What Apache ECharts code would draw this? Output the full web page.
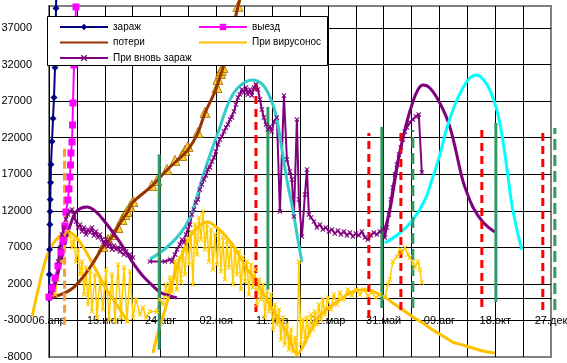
<!DOCTYPE html>
<html><head><meta charset="utf-8">
<script src="https://cdn.jsdelivr.net/npm/echarts@6/dist/echarts.min.js"></script>
<style>html,body{margin:0;padding:0;background:#fff}#c{width:567px;height:363px}</style>
</head><body><div id="c"></div>
<script>
// x = days since 06.04.2020, y = value
const monthsRu = ['янв','фев','мар','апр','май','июн','июл','авг','сен','окт','ноя','дек'];

const infDays = [0, 0.4, 0.75, 1.1, 1.3, 1.6, 2, 2.5, 3.8, 5, 6.3, 7.5, 8.2, 8.8, 9.4];
const infVals = [0, 3280, 6700, 10120, 11900, 13540, 15870, 18330, 21480, 24620, 27500, 31600, 35600, 39700, 43500];

const outDays = [0, 3.8, 7.5, 11.3, 15, 17.6, 20, 21.3, 23.8, 25, 26.3, 27, 27.6, 28.9, 29.5, 30.1, 31.4, 33.9];
const outVals = [200, 1440, 2810, 4450, 6360, 8000, 9920, 11830, 13470, 14980, 16620, 18260, 19900, 21410, 23730, 26740, 31940, 39870];

const lossDays = [0, 1.3, 13.8, 30.1, 42.7, 55.2, 67.7, 79, 89.1, 97.9, 105.4, 129.2, 148, 164.3, 174.4, 186.9, 195.7, 208.2, 214.5, 218.3, 227, 237.1, 242];
const lossVals = [0, 70, 480, 1440, 2940, 4860, 7050, 8410, 10330, 11700, 13200, 15390, 17580, 19220, 20310, 22640, 25370, 28250, 30300, 31530, 35360, 39870, 42000];

const triDays = [67.7, 74, 80.3, 86.6, 91.6, 95.3, 97.9, 101.6, 105.4, 129.2, 135.5, 148, 158.1, 166.8, 170.6, 174.4, 186.9, 195.7, 210.8, 212, 215, 216, 218.3, 237.1];
const triVals = [7110, 8070, 8750, 9710, 10810, 11490, 11900, 12590, 13270, 15460, 16140, 17650, 18880, 19560, 20250, 20790, 22710, 25450, 28860, 29960, 30780, 31200, 31600, 39950];

const carrDays = [-21.3, -13.8, -5, 3.8, 13.8, 23.8, 33.9, 45.2, 57.7, 70.3, 85.3, 99.1, 115,
  130.5, 136.7, 145.5, 153, 160.6, 169.4, 176.9, 185.7, 193.2, 199.5, 208.2, 218.3, 229.6, 239.6, 249.6,
  260.9, 271, 281, 289.8, 298.6, 306.1, 311.1, 319.9, 327.4, 336.2, 343.7, 352.5, 361.3, 371.3, 380.1,
  390.1, 400.2, 411.5, 421.5, 431.5, 444.1, 456.6, 469.2, 481.7, 494.3, 506.8, 519.4, 531.9, 544.5, 559.5];
const carrVals = [-2530, 1160, 4990, 7320, 8550, 9100, 8410, 6640, 4170, 1580, -890, -3210, null,
  -7450, -4720, -1570, 1440, 4310, 6640, 8410, 9650, 10330, 10470, 9920, 8960, 7460, 5680, 3900,
  2120, 210, -1570, -3210, -4720, -6770, -7600, -6360, -4580, -2940, -1980, -1160, -480, 340, 890,
  1160, 1160, 750, 210, -610, -1570, -2530, -3350, -4310, -5130, -5950, -6360, -6770, -7180, -7450];

const carrNoiseDays = [7.5,11.3,15.1,17.6,21.3,23.8,26.3,28.9,31.4,33.9,36.4,38.9,41.4,43.9,46.4,48.9,51.4,53.9,57.7,60.2,64,67.7,71.5,75.3,79,82.8,86.6,90.3,94.1,97.9,101.6,105.4,109.1,114.2,117.9,121.7,126.7,
  135.5,139.2,143,146.8,149.3,151.8,154.3,158.1,160.6,163.1,165.6,168.1,170.6,173.1,175.6,178.1,180.6,183.2,185.7,188.2,190.7,193.2,195.7,198.2,200.7,203.2,205.7,208.2,210.8,213.3,215.8,218.3,220.8,223.3,225.8,228.3,230.8,233.3,235.8,238.4,240.9,243.4,245.9,248.4,250.9,253.4,255.9,258.4,260.9,263.5,266,268.5,271,273.5,276,278.5,281,283.5,286,288.5,291,293.5,296,298.6,301.1,303.6,306.1,308.6,311.1,313.6,316.1,
  318.6,321.2,323.7,326.2,328.7,331.2,333.7,336.2,338.7,341.2,343.7,346.2,349.9,353.7,357.5,361.3,365.1,370,375,380.1,385.1,390.1,395.2,400.2,405.2,410.2,415.2,421.5,
  425.3,427.8,431.5,436.6,440.3,442.8,446.6,450.4,452.9,456.6,459.1,462.9,465.4,467.9];
const carrNoiseVals = [550,2600,5060,6700,8070,9170,8620,6980,8070,5060,6700,3280,5060,550,4240,-820,3690,-1780,3280,-2600,2600,-1500,3970,-2870,3280,-3150,4650,-2600,4240,-3150,3690,-2600,-140,-2190,-1230,-2600,-1780,
  -1780,-140,-820,1920,140,2870,960,5060,1230,5610,2190,6700,3280,8070,4650,9170,1920,10120,6020,11080,8070,11900,6700,10120,5060,9440,3970,8750,4650,9170,3690,8340,2600,7800,4240,7390,1920,6700,3280,6430,1230,5610,2330,5060,550,4650,1500,3970,-820,2600,-140,1920,-2600,960,-1780,550,-4240,-820,-3560,-1500,-5610,-2600,-6290,-3560,-6980,-4240,-7250,-5340,-7660,5060,-6290,
  -2870,-5610,-2600,-4920,-2190,-4240,-1780,-3560,-820,-2870,-140,-2190,140,-1500,550,-820,820,-140,1230,410,1230,550,1230,410,820,140,550,140,
  1920,2600,5060,5750,6700,6290,6980,6020,5610,4920,4240,5060,3970,2190];

const reinfDays = [11.3,13.8,16.3,18.8,21.3,23.8,26.3,28.9,31.4,33.9,36.4,38.9,41.4,43.9,46.4,48.9,51.4,53.9,56.4,58.9,61.5,64,66.5,69,71.5,74,76.5,79,81.5,84.1,86.6,89.1,91.6,94.1,96.6,99.1,101.6,105.4,115,
  126.7,145.5,151.8,154.3,158.1,160.6,164.3,166.8,169.4,171.9,174.4,176.9,179.4,181.9,184.4,186.9,189.4,191.9,194.4,197,199.5,202,204.5,207,209.5,212,214.5,217,219.6,222.1,224.6,227.1,229.6,232.1,234.6,237.1,239.6,242.1,244.6,247.1,249.6,252.2,254.7,257.2,259.7,262.2,264.7,267.2,269.7,272.2,274.7,277.2,279.7,282.3,286,289.8,294.8,298.6,302.3,304.8,307.4,311.1,313.6,317.4,321.2,323.7,326.2,328.7,332.5,336.2,340,343.7,347.5,351.3,355,358.8,362.6,366.3,370.1,373.9,377.6,381.4,385.1,388.9,392.7,396.4,400.2,404,407.7,411.5,415.2,419,421.5,424,426.5,429,431.5,434.1,436.6,439.1,441.6,444.1,446.6,449.1,452.9,456.6,460.4,464.1,467.9];
const reinfVals = [5060,6980,8750,9710,10810,11490,11900,12180,11490,10530,9710,10120,9170,9710,8750,9440,9030,9710,8620,9170,8340,8750,8070,7390,8070,7110,7520,6700,7250,6700,6980,6430,6700,6020,6430,5880,6020,5610,null,
  5060,5060,5340,5060,6020,6700,7390,8070,7660,8750,9440,10120,11490,12180,13130,13540,14910,15600,16280,16830,17650,17920,18740,19290,20110,21070,21750,22160,22850,23390,23800,24490,24760,25580,26540,27500,27910,28590,28180,28860,27910,28590,27770,28860,29270,28590,27220,25850,24760,23800,23120,23530,22840,24210,24760,11900,27770,19020,17370,16280,11220,24490,13540,8480,14230,17650,11490,11080,10530,9710,10120,9440,9710,9170,9440,8890,9300,8750,9170,8620,9030,8480,8890,8620,9170,8340,8070,8620,9030,8750,9170,9440,8340,9710,11490,13540,15180,16960,18330,19700,20660,21750,22840,23390,24080,24490,24900,25170,17240];

const wave1Days = [3.8, 13.8, 21.3, 28.9, 36.4, 47.7, 57.7, 70.3, 85.3, 95.3, 105.4, 116.7, 126.7, 139.2, 148, 160.6];
const wave1Vals = [480, 4580, 8000, 10740, 12110, 12520, 11970, 10470, 8280, 6640, 4860, 3220, 2120, 890, 480, 70];
const wave2Days = [420.3, 427.8, 434.1, 440.3, 449.1, 456.6, 462.9, 469.2, 478, 490.5, 503.1, 518.1, 521.9, 531.9, 544.5, 559.5];
const wave2Vals = [8960, 12110, 16210, 20040, 24140, 26880, 28520, 29200, 28790, 26740, 23460, 16620, 15250, 12520, 10470, 9100];

const cyan1Days = [126.7, 145.5, 164.3, 176.9, 183.2, 195.7, 212, 227, 239.6, 254.7, 267.2, 277.2, 284.8, 289.8, 298.6, 306.1, 312.4, 317.4];
const cyan1Vals = [5400, 6770, 8820, 11010, 13060, 17580, 22640, 27150, 29070, 29890, 29340, 27560, 25100, 22090, 16210, 12110, 8000, 4990];
const cyan2Days = [421.5, 440.3, 456.6, 471.7, 480.5, 490.5, 499.3, 509.3, 519.4, 528.1, 535.7, 544.5, 553.2, 562, 569.5, 575.8, 582.1, 593.4];
const cyan2Vals = [7590, 8960, 10740, 13470, 16210, 19630, 23320, 26470, 28790, 30160, 30570, 30030, 28520, 25790, 21680, 16890, 12110, 6640];

const orangeX = [19.5], orangeTop = [21000], orangeBottom = [-3600];
const redX = [259.7, 401.4, 441.6, 543.2, 619.7];
const redTop = [29900, 22640, 22640, 23320, 23050];
const redBottom = [-1850, -2670, -1570, -1160, -1570];
const greenX = [138.3, 274.7, 417.7, 560.8];
const greenTop = [19700, 26200, 23460, 24010];
const greenBottom = [-7000, 1230, -1300, -480];
const greenDashX = [456.6, 634.8];
const greenDashTop = [23050, 23320];
const greenDashBottom = [-1300, -1570];

// axis setup
const X_MIN = 0, X_MAX = 630, X_STEP = 35;
const Y_MIN = -8000, Y_MAX = 40000, Y_STEP = 5000;
const X_PAD = 35; // extended hidden axis so points outside the visible range are drawn too

const FONT = 'Arial, "Liberation Sans", sans-serif';
const XMARK = 'path://M0,1.5L1.5,0L5,3.5L8.5,0L10,1.5L6.5,5L10,8.5L8.5,10L5,6.5L1.5,10L0,8.5L3.5,5Z';

const W = 567, GL = 49, GR = 16;
const pxPerDay = (W - GL - GR) / (X_MAX - X_MIN);

function zip(d, v) { return d.map((x, i) => [x, v[i] === null ? '-' : v[i]]); }
function line(name, d, v, color, width, extra) {
  return Object.assign({
    name, type: 'line', data: zip(d, v), clip: false, symbol: 'none', xAxisIndex: 1, yAxisIndex: 1,
    lineStyle: { color, width }, itemStyle: { color }, silent: true
  }, extra || {});
}
function vlines(xs, tops, bots, color, type, prefix) {
  return xs.map((x, i) => ({
    name: prefix + i, type: 'line', clip: false, symbol: 'none', silent: true, xAxisIndex: 1, yAxisIndex: 1,
    data: [[x, bots[i]], [x, tops[i]]],
    lineStyle: { color, width: 3, type }, itemStyle: { color }
  }));
}

const series = [
  line('шум', carrNoiseDays, carrNoiseVals, '#FFCC00', 1.5, { symbol: XMARK, symbolSize: 5 }),
  line('При вирусонос', carrDays, carrVals, '#FFC000', 3, { smooth: 0.3 }),
  line('потери', lossDays, lossVals, '#993300', 3, { smooth: 0.2 }),
  { name: 'tri', type: 'scatter', data: zip(triDays, triVals), clip: false, symbol: 'triangle', symbolSize: 10, silent: true,
    xAxisIndex: 1, yAxisIndex: 1,
    itemStyle: { color: '#FFCC00', borderColor: '#996600', borderWidth: 1 } },
  line('зараж', infDays, infVals, '#000080', 2, { symbol: 'diamond', symbolSize: 7 }),
  line('выезд', outDays, outVals, '#FF00FF', 2, { symbol: 'rect', symbolSize: 7 }),
  line('При вновь зараж', reinfDays, reinfVals, '#800080', 2, { symbol: XMARK, symbolSize: 5 }),
  line('wave1', wave1Days, wave1Vals, '#800080', 3, { smooth: 0.4 }),
  line('wave2', wave2Days, wave2Vals, '#800080', 3, { smooth: 0.4 }),
  line('cyan1', cyan1Days, cyan1Vals, '#33CCCC', 3, { smooth: 0.4 }),
  line('cyan2', cyan2Days, cyan2Vals, '#00FFFF', 3, { smooth: 0.4 }),
  ...vlines(orangeX, orangeTop, orangeBottom, '#FF9933', [8, 4], 'or'),
  ...vlines(redX, redTop, redBottom, '#FF0000', [8, 5], 'red'),
  ...vlines(greenX, greenTop, greenBottom, '#339966', 'solid', 'gr'),
  ...vlines(greenDashX, greenDashTop, greenDashBottom, '#339966', [11, 5], 'grd')
];

const legendBase = {
  orient: 'vertical', top: 21, itemWidth: 48, itemHeight: 8, itemGap: 3.5, padding: 0,
  selectedMode: false, z: 60,
  textStyle: { fontSize: 10, fontFamily: FONT, color: '#000', lineHeight: 12 }
};
const noMark = { opacity: 0 };

const chart = echarts.init(document.getElementById('c'));
chart.setOption({
  animation: false,
  backgroundColor: '#fff',
  grid: [
    { left: GL, right: GR, top: 6, bottom: 6, containLabel: false, outerBoundsMode: 'none',
      show: true, borderColor: '#808080', borderWidth: 2, backgroundColor: '#fff' },
    { left: GL - X_PAD * pxPerDay, right: GR - X_PAD * pxPerDay, top: 6, bottom: 6,
      containLabel: false, outerBoundsMode: 'none', show: false }
  ],
  xAxis: [{
    type: 'value', min: X_MIN, max: X_MAX, interval: X_STEP, position: 'bottom', offset: -58.5,
    axisLine: { onZero: false, lineStyle: { color: '#000', width: 1 } },
    axisTick: { show: false },
    axisLabel: {
      margin: 17, color: '#000', fontSize: 11, fontFamily: FONT,
      formatter: v => {
        if (v % 70 !== 0) return '';
        const dt = new Date(Date.UTC(2020, 3, 6) + v * 86400000);
        const d = dt.getUTCDate();
        return (d < 10 ? '0' + d : d) + '.' + monthsRu[dt.getUTCMonth()];
      }
    },
    splitLine: { show: true, showMinLine: false, showMaxLine: false, lineStyle: { color: '#000', width: 1 } }
  }, {
    type: 'value', gridIndex: 1, min: X_MIN - X_PAD, max: X_MAX + X_PAD, show: false,
    axisLine: { onZero: false }, splitLine: { show: false }
  }],
  yAxis: [{
    type: 'value', min: Y_MIN, max: Y_MAX, interval: Y_STEP,
    axisLine: { show: true, onZero: false, lineStyle: { color: '#000', width: 1 } },
    axisTick: { show: false },
    axisLabel: { margin: 17, color: '#000', fontSize: 11, fontFamily: FONT, formatter: v => v === Y_MAX ? '' : String(v) },
    splitLine: { show: true, showMinLine: false, showMaxLine: false, lineStyle: { color: '#000', width: 1 } }
  }, {
    type: 'value', gridIndex: 1, min: Y_MIN, max: Y_MAX, show: false,
    axisLine: { onZero: false }, splitLine: { show: false }
  }],
  legend: [
    Object.assign({ left: 59, data: ['зараж', { name: 'потери', itemStyle: noMark }, 'При вновь зараж'] }, legendBase),
    Object.assign({ left: 198, data: ['выезд', { name: 'При вирусонос', itemStyle: noMark }] }, legendBase)
  ],
  graphic: [{
    type: 'rect', z: 50, silent: true,
    shape: { x: 47.5, y: 16.5, width: 280, height: 49 },
    style: { fill: '#fff', stroke: '#000', lineWidth: 1 }
  }],
  series
});
</script></body></html>
